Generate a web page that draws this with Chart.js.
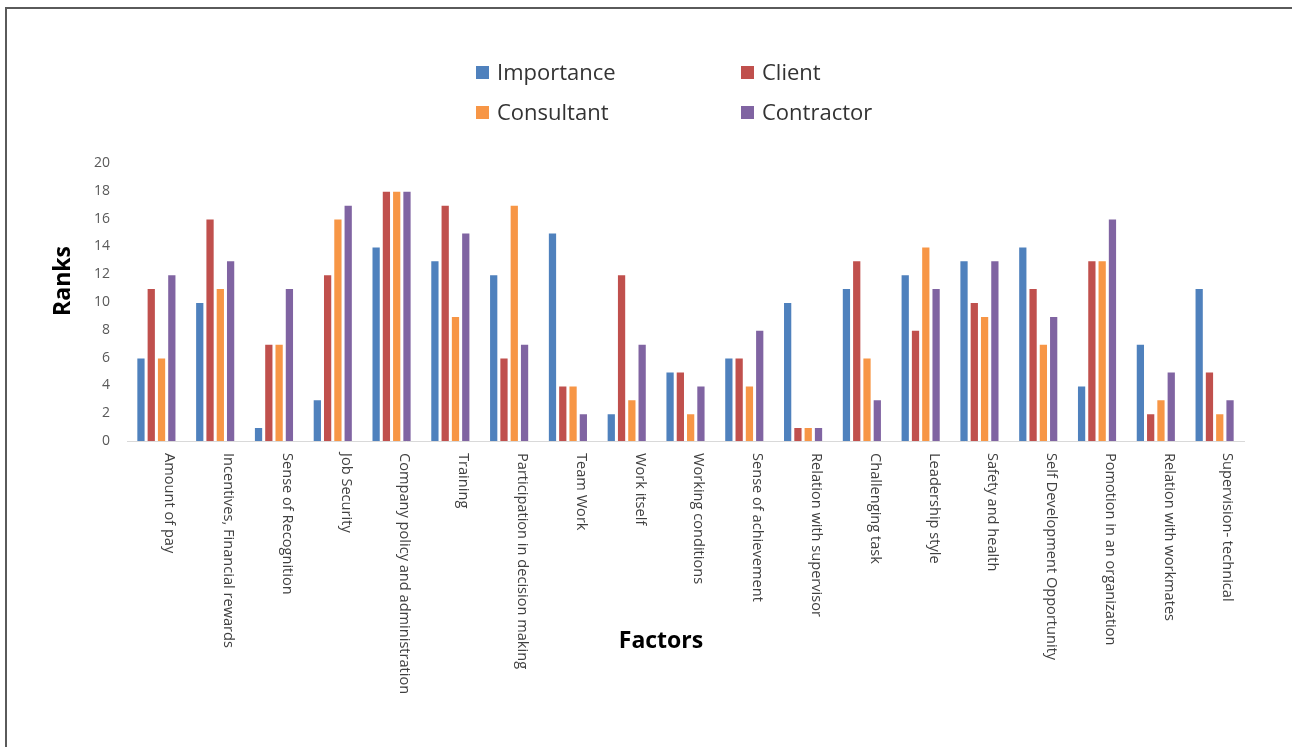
<!DOCTYPE html>
<html>
<head>
<meta charset="utf-8">
<script src="https://cdn.jsdelivr.net/npm/chart.js@4/dist/chart.umd.min.js"></script>
<style>
  html, body { margin: 0; padding: 0; background: #ffffff; overflow: hidden; }
  #wrap { position: relative; width: 1292px; height: 747px; }
  #frame { position: absolute; left: 5px; top: 7px; width: 1320px; height: 780px;
           border: 2px solid #5a5a5a; box-sizing: border-box; pointer-events: none; }
  canvas { position: absolute; left: 0; top: 0; }
</style>
</head>
<body>
<div id="wrap">
  <canvas id="chart" width="1292" height="747"></canvas>
  <div id="frame"></div>
</div>
<script>
// Motivation factors ranked by each respondent group
const factors = [
  "Amount of pay",
  "Incentives, Financial rewards",
  "Sense of Recognition",
  "Job Security",
  "Company policy and administration",
  "Training",
  "Participation in decision making",
  "Team Work",
  "Work itself",
  "Working conditions",
  "Sense of achievement",
  "Relation with supervisor",
  "Challenging task",
  "Leadership style",
  "Safety and health",
  "Self Development Opportunity",
  "Pomotion in an organization",
  "Relation with workmates",
  "Supervision- technical"
];

const importance = [6, 10, 1, 3, 14, 13, 12, 15, 2, 5, 6, 10, 11, 12, 13, 14, 4, 7, 11];
const client     = [11, 16, 7, 12, 18, 17, 6, 4, 12, 5, 6, 1, 13, 8, 10, 11, 13, 2, 5];
const consultant = [6, 11, 7, 16, 18, 9, 17, 4, 3, 2, 4, 1, 6, 14, 9, 7, 13, 3, 2];
const contractor = [12, 13, 11, 17, 18, 15, 7, 2, 7, 4, 8, 1, 3, 11, 13, 9, 16, 5, 3];

const seriesNames = ["Importance", "Client", "Consultant", "Contractor"];
const seriesColors = ["#4F81BD", "#C0504D", "#F79646", "#8064A2"];

const yMin = 0, yMax = 20, yStep = 2;

const FONT = "'Open Sans', 'DejaVu Sans', sans-serif";

// Two-column legend block above the plot
const legendBlock = {
  id: 'legendBlock',
  afterDraw(chart) {
    const ctx = chart.ctx;
    const cols = [476, 741];
    const rows = [66, 106];
    ctx.save();
    ctx.font = "22px " + FONT;
    ctx.textBaseline = 'alphabetic';
    ctx.textAlign = 'left';
    chart.data.datasets.forEach((ds, i) => {
      const x = cols[i % 2];
      const y = rows[Math.floor(i / 2)];
      ctx.fillStyle = ds.backgroundColor;
      ctx.fillRect(x, y, 13, 13);
      ctx.fillStyle = '#333333';
      ctx.fillText(ds.label, x + 21, y + 14);
    });
    ctx.restore();
  }
};

// Category names written downward under each group, plus axis titles
const axisText = {
  id: 'axisText',
  afterDraw(chart) {
    const ctx = chart.ctx;
    const xs = chart.scales.x;
    const area = chart.chartArea;
    ctx.save();
    ctx.font = "14.6px " + FONT;
    ctx.fillStyle = '#404040';
    ctx.textAlign = 'left';
    ctx.textBaseline = 'middle';
    chart.data.labels.forEach((lab, i) => {
      const x = xs.getPixelForValue(i) + 13;
      ctx.save();
      ctx.translate(x, area.bottom + 12);
      ctx.rotate(Math.PI / 2);
      ctx.fillText(lab, 0, 0);
      ctx.restore();
    });

    ctx.fillStyle = '#000000';
    ctx.font = "bold 23px " + FONT;
    ctx.textAlign = 'center';
    ctx.textBaseline = 'middle';
    ctx.fillText('Factors', 661, 641);

    ctx.translate(63, 281);
    ctx.rotate(-Math.PI / 2);
    ctx.fillText('Ranks', 0, 0);
    ctx.restore();
  }
};

const datasets = [importance, client, consultant, contractor].map((vals, i) => ({
  label: seriesNames[i],
  data: vals,
  backgroundColor: seriesColors[i],
  borderColor: 'rgba(255,255,255,0.3)',
  borderWidth: 1,
  categoryPercentage: 0.7,
  barPercentage: 0.9
}));

new Chart(document.getElementById('chart'), {
  type: 'bar',
  data: { labels: factors, datasets: datasets },
  options: {
    responsive: false,
    animation: false,
    devicePixelRatio: 1,
    layout: { padding: { top: 163, right: 48, left: 0, bottom: 0 } },
    plugins: {
      legend: { display: false },
      tooltip: { enabled: false }
    },
    scales: {
      x: {
        grid: { display: false, drawTicks: false },
        border: { display: true, color: '#d9d9d9', width: 1 },
        ticks: { display: false },
        afterFit(scale) { scale.height = 306; }
      },
      y: {
        min: yMin,
        max: yMax,
        grid: { display: false, drawTicks: false },
        border: { display: false },
        ticks: {
          stepSize: yStep,
          padding: 17,
          color: '#595959',
          font: { family: FONT, size: 14 }
        },
        afterFit(scale) { scale.width = 127; }
      }
    }
  },
  plugins: [legendBlock, axisText]
});
</script>
</body>
</html>
